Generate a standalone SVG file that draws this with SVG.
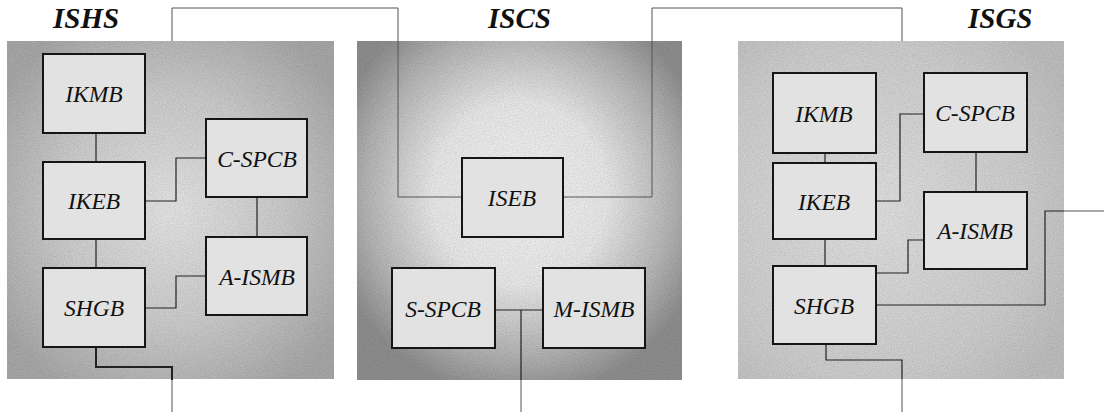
<svg xmlns="http://www.w3.org/2000/svg" width="1104" height="414" viewBox="0 0 1104 414">
<defs>
<radialGradient id="gHS" cx="0.5" cy="0.5" r="0.62">
<stop offset="0" stop-color="#f0f0f0"/><stop offset="0.55" stop-color="#d6d6d6"/><stop offset="1" stop-color="#b0b0b0"/>
</radialGradient>
<radialGradient id="gCS" cx="0.5" cy="0.45" r="0.6">
<stop offset="0" stop-color="#ffffff"/><stop offset="0.45" stop-color="#f4f4f4"/><stop offset="0.8" stop-color="#bcbcbc"/><stop offset="1" stop-color="#959595"/>
</radialGradient>
<radialGradient id="gGS" cx="0.4" cy="0.5" r="0.7">
<stop offset="0" stop-color="#ececec"/><stop offset="0.7" stop-color="#d8d8d8"/><stop offset="1" stop-color="#c8c8c8"/>
</radialGradient>
<filter id="noise" x="0" y="0" width="100%" height="100%">
<feTurbulence type="fractalNoise" baseFrequency="0.9" numOctaves="2" seed="3" result="n"/>
<feColorMatrix in="n" type="matrix" values="0 0 0 0 0  0 0 0 0 0  0 0 0 0 0  0 0 0 0.18 0"/>
<feComposite in2="SourceGraphic" operator="in"/>
</filter>
</defs>
<style>
.box{fill:#e2e2e2;stroke:#151515;stroke-width:2}
.wire{fill:none;stroke:#222;stroke-width:1.2}
.thin{fill:none;stroke:#555;stroke-width:1}
</style>
<rect width="1104" height="414" fill="#ffffff"/>
<g id="panels">
<rect x="7" y="41" width="327" height="338" fill="url(#gHS)"/>
<rect x="7" y="41" width="327" height="338" fill="#000" filter="url(#noise)"/>
<rect x="357" y="41" width="325" height="339" fill="url(#gCS)"/>
<rect x="357" y="41" width="325" height="339" fill="#000" filter="url(#noise)"/>
<rect x="738" y="41" width="326" height="338" fill="url(#gGS)"/>
<rect x="738" y="41" width="326" height="338" fill="#000" filter="url(#noise)"/>
</g>
<g id="titles" font-family="Liberation Serif, DejaVu Serif, serif" font-style="italic" font-weight="bold" font-size="29" fill="#111">
<text x="53" y="28">ISHS</text>
<text x="488" y="28">ISCS</text>
<text x="968" y="28">ISGS</text>
</g>
<g id="connectors">
<polyline class="thin" points="172,41 172,8 398,8 398,197 462,197"/>
<polyline class="thin" points="563,197 652,197 652,8 902,8 902,41"/>
<line class="wire" x1="96" y1="133" x2="96" y2="162"/>
<polyline class="wire" points="145,201 176,201 176,158 206,158"/>
<line class="wire" x1="257" y1="197" x2="257" y2="237"/>
<line class="wire" x1="96" y1="239" x2="96" y2="268"/>
<polyline class="wire" points="145,308 176,308 176,276 206,276"/>
<polyline class="wire" style="stroke-width:2" points="96,347 96,367 172,367 172,380"/>
<line class="thin" x1="172" y1="380" x2="172" y2="412"/>
<line class="wire" x1="495" y1="310" x2="543" y2="310"/>
<line class="wire" x1="521" y1="310" x2="521" y2="380"/>
<line class="thin" x1="521" y1="380" x2="521" y2="412"/>
<line class="wire" x1="825" y1="153" x2="825" y2="163"/>
<polyline class="wire" points="876,201 900,201 900,114 924,114"/>
<line class="wire" x1="976" y1="152" x2="976" y2="192"/>
<line class="wire" x1="825" y1="239" x2="825" y2="266"/>
<polyline class="wire" points="876,273 908,273 908,240 924,240"/>
<polyline class="wire" points="876,305 1045,305 1045,211 1064,211"/>
<line class="thin" x1="1064" y1="211" x2="1104" y2="211"/>
<polyline class="wire" points="826,344 826,360 902,360 902,379"/>
<line class="thin" x1="902" y1="379" x2="902" y2="412"/>
</g>
<g font-family="Liberation Serif, DejaVu Serif, serif" font-style="italic" font-size="23.5" fill="#111" text-anchor="middle">
<g id="ISHS-IKMB"><rect class="box" x="43" y="54" width="102" height="79"/><text x="94" y="102">IKMB</text></g>
<g id="ISHS-IKEB"><rect class="box" x="43" y="162" width="102" height="77"/><text x="94" y="209">IKEB</text></g>
<g id="ISHS-SHGB"><rect class="box" x="43" y="268" width="102" height="79"/><text x="94" y="316">SHGB</text></g>
<g id="ISHS-CSPCB"><rect class="box" x="206" y="119" width="101" height="78"/><text x="257" y="167">C-SPCB</text></g>
<g id="ISHS-AISMB"><rect class="box" x="206" y="237" width="101" height="78"/><text x="257" y="285">A-ISMB</text></g>
<g id="ISCS-ISEB"><rect class="box" x="462" y="158" width="101" height="79"/><text x="512" y="206">ISEB</text></g>
<g id="ISCS-SSPCB"><rect class="box" x="392" y="268" width="103" height="80"/><text x="443" y="317">S-SPCB</text></g>
<g id="ISCS-MISMB"><rect class="box" x="543" y="268" width="102" height="80"/><text x="594" y="317">M-ISMB</text></g>
<g id="ISGS-IKMB"><rect class="box" x="773" y="73" width="103" height="80"/><text x="824" y="122">IKMB</text></g>
<g id="ISGS-IKEB"><rect class="box" x="773" y="163" width="103" height="76"/><text x="824" y="210">IKEB</text></g>
<g id="ISGS-SHGB"><rect class="box" x="773" y="266" width="103" height="78"/><text x="824" y="314">SHGB</text></g>
<g id="ISGS-CSPCB"><rect class="box" x="924" y="73" width="103" height="79"/><text x="975" y="121">C-SPCB</text></g>
<g id="ISGS-AISMB"><rect class="box" x="924" y="192" width="103" height="77"/><text x="975" y="239">A-ISMB</text></g>
</g>
</svg>
